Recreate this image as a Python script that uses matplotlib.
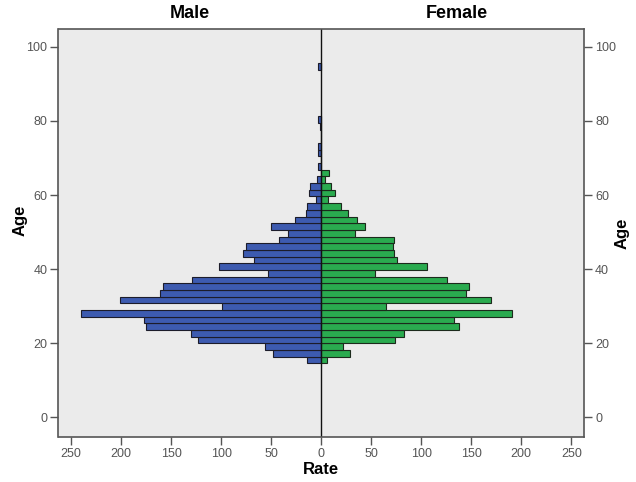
import matplotlib
matplotlib.use("Agg")
import matplotlib.pyplot as plt
from matplotlib.ticker import FuncFormatter

# Age bin centres (years) and rates
ages = [15.5, 17.3, 19.1, 20.9, 22.7, 24.5, 26.3, 28.1, 29.9, 31.7,
        33.5, 35.3, 37.1, 38.9, 40.7, 42.5, 44.3, 46.1, 47.9, 49.7,
        51.5, 53.3, 55.1, 56.9, 58.7, 60.5, 62.3, 64.1, 65.9, 67.7,
        69.5, 71.3, 73.1, 74.9, 76.7, 78.5, 80.3, 94.7]
male = [14, 48, 56, 123, 130, 175, 177, 240, 99, 201,
        161, 158, 129, 53, 102, 67, 78, 75, 42, 33,
        50, 26, 15, 14, 5, 12, 11, 4, 0, 3,
        0, 3, 3, 0, 0, 1, 3, 3]
female = [6, 29, 22, 74, 83, 138, 133, 191, 65, 170,
          145, 148, 126, 54, 106, 76, 73, 72, 73, 34,
          44, 36, 27, 20, 7, 14, 10, 4, 8, 0,
          0, 0, 0, 0, 0, 0, 0, 0]
bin_width = 1.8
x_ticks = [-250, -200, -150, -100, -50, 0, 50, 100, 150, 200, 250]
y_ticks = [0, 20, 40, 60, 80, 100]

male_color = "#3d5bb0"
female_color = "#2aab4f"

plt.rcParams["font.family"] = ["Liberation Sans", "DejaVu Sans"]

fig = plt.figure(figsize=(6.36, 4.82), dpi=100)
top_px, bottom_px = 29, 437
ax = fig.add_axes([58.5 / 636, 1 - bottom_px / 482, (584 - 58.5) / 636,
                   (bottom_px - top_px) / 482])
ax.set_facecolor("#ebebeb")

ax.barh(ages, [-m for m in male], height=bin_width, color=male_color,
        edgecolor="#1c1c2a", linewidth=0.8)
ax.barh(ages, female, height=bin_width, color=female_color,
        edgecolor="#1c2a1c", linewidth=0.8)
ax.axvline(0, color="#111111", linewidth=1.0)

ax.set_xlim(-262.7, 262.7)
ax.set_ylim(-5.3, 104.8)
ax.set_xticks(x_ticks)
ax.xaxis.set_major_formatter(FuncFormatter(lambda v, p: f"{abs(int(v))}"))
ax.set_yticks(y_ticks)

for s in ax.spines.values():
    s.set_color("#555555")
    s.set_linewidth(1.2)

ax.tick_params(axis="both", direction="out", length=6, width=1.0,
               color="#555555", labelcolor="#555555", labelsize=9, pad=2)
ax.tick_params(axis="y", right=True, labelright=True)

fig.text(321 / 636, 1 - 469 / 482, "Rate", fontsize=12, fontweight="bold",
         ha="center", va="center")
fig.text(20 / 636, 1 - 220 / 482, "Age", rotation=90, fontsize=12,
         fontweight="bold", ha="center", va="center")
fig.text(622 / 636, 1 - 233 / 482, "Age", rotation=90, fontsize=12,
         fontweight="bold", ha="center", va="center")
fig.text(190 / 636, 1 - 18 / 482, "Male", fontsize=13, fontweight="bold",
         ha="center", va="baseline")
fig.text(457 / 636, 1 - 18 / 482, "Female", fontsize=13, fontweight="bold",
         ha="center", va="baseline")

fig.savefig("out.png", dpi=100, facecolor="white")
